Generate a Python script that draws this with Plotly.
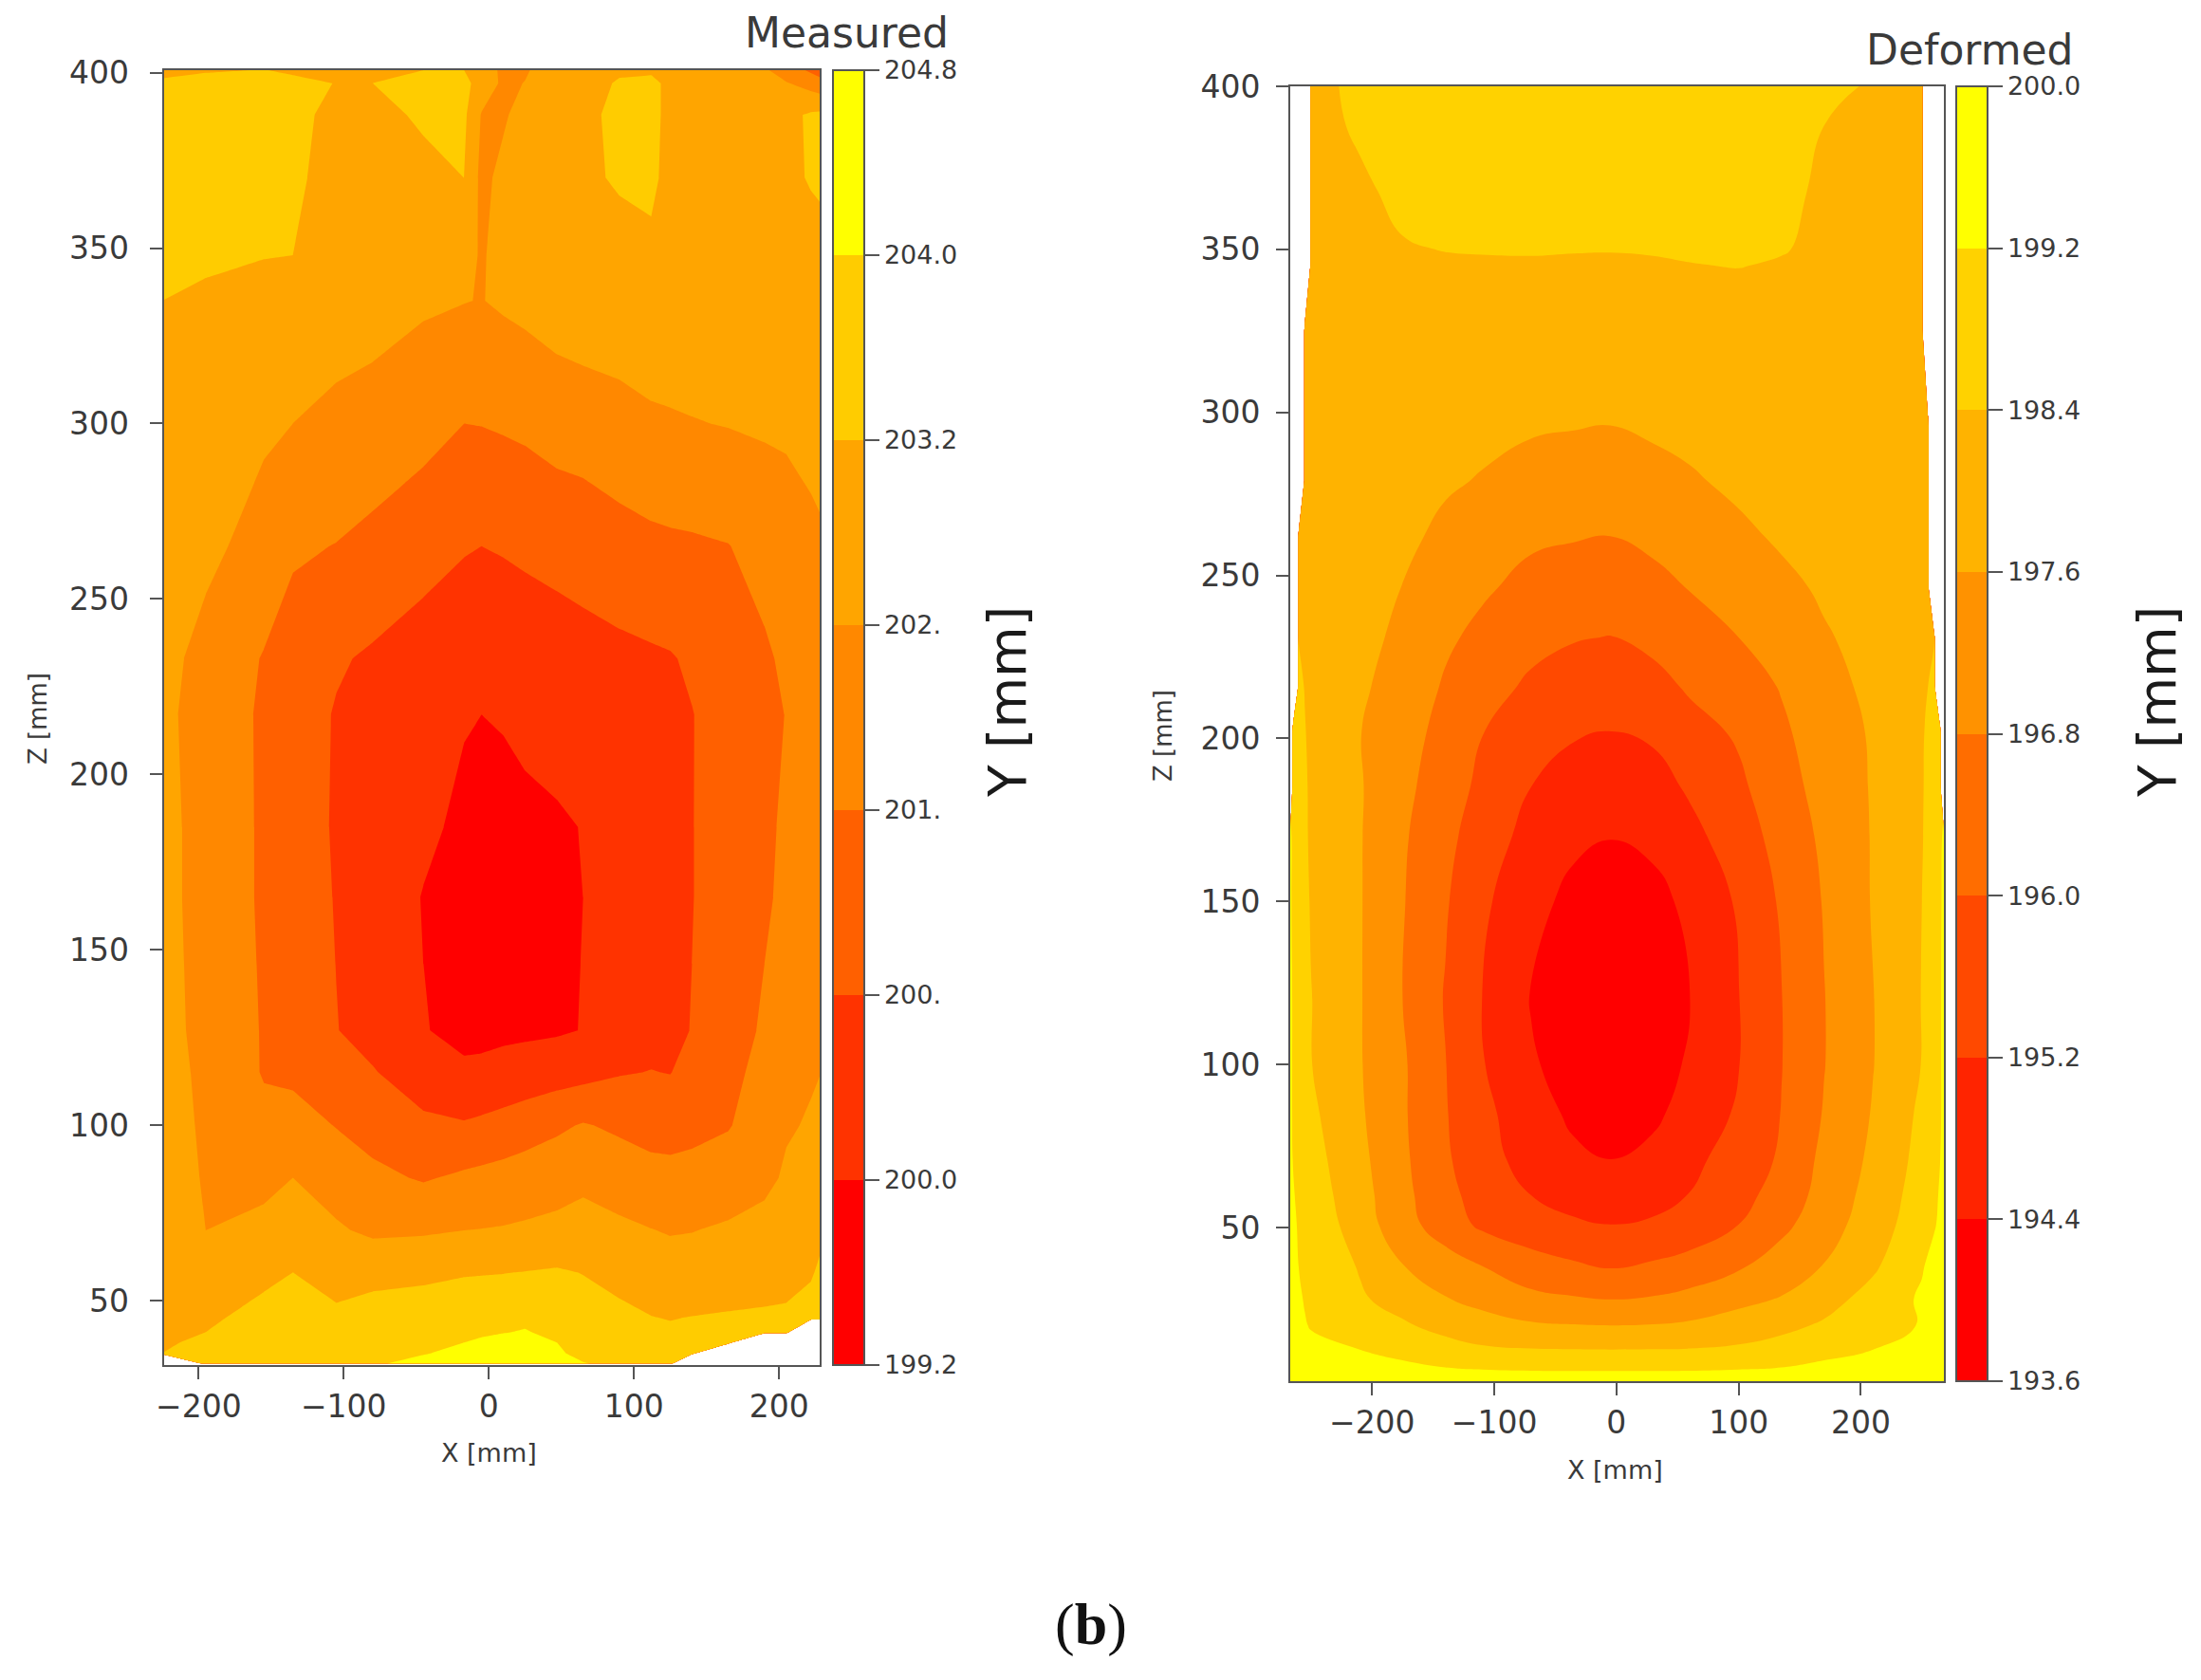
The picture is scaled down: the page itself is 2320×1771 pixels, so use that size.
import plotly.graph_objects as go

W, H = 2320, 1771
N = None

# ---------- Measured panel ----------
measured_x = [-225,-195,-155,-135,-105,-80,-45,-17,-5,10,25,47,65,90,112,125,140,165,190,205,222,229]
measured_z = [32,35,38,41,45,58,70,85,100,115,127,165,185,217,233,265,300,335,348,370,388,397,401.6]
measured_y = [
 [N,203.55,203.65,203.7,203.85,203.96,204.1,204.15,204.18,204.2,204.2,204.1,204.02,203.9,203.7,203.65,N,N,N,N,N,N],
 [203.2,203.45,203.6,203.65,203.75,203.85,203.98,204.08,204.13,204.18,204.2,204.05,203.9,203.75,203.55,203.5,203.5,N,N,N,N,N],
 [203.1,203.35,203.52,203.6,203.65,203.7,203.85,204.0,204.08,204.15,204.18,204.0,203.8,203.6,203.4,203.38,203.38,203.42,N,N,N,N],
 [203.0,203.2,203.45,203.55,203.48,203.58,203.68,203.82,203.92,203.98,204.03,203.88,203.65,203.48,203.3,203.28,203.3,203.35,203.38,203.38,N,N],
 [202.9,203.1,203.4,203.5,203.3,203.45,203.5,203.65,203.75,203.8,203.9,203.75,203.5,203.35,203.22,203.18,203.22,203.27,203.3,203.3,203.4,203.4],
 [202.7,202.9,203.05,203.2,203.0,203.02,203.08,203.15,203.16,203.18,203.22,203.28,203.18,203.0,202.8,202.72,202.72,202.8,202.9,203.0,203.15,203.3],
 [202.7,202.4,202.6,202.85,202.5,202.25,202.3,202.4,202.42,202.45,202.5,202.6,202.75,202.55,202.42,202.35,202.38,202.5,202.6,202.8,203.0,203.1],
 [202.7,202.35,202.2,202.4,202.03,201.77,201.53,201.73,201.8,201.89,201.98,202.07,202.19,202.03,201.85,201.82,201.82,201.98,202.25,202.48,202.65,202.75],
 [202.7,202.3,201.8,201.89,201.57,201.31,200.95,200.87,200.95,201.07,201.23,201.47,201.65,201.47,201.33,201.31,201.42,201.55,201.98,202.34,202.45,202.55],
 [202.7,202.24,201.55,201.45,201.13,200.85,200.4,200.1,200.15,200.25,200.32,200.45,200.55,200.75,200.82,200.78,201.05,201.35,201.88,202.25,202.35,202.4],
 [202.7,202.15,201.55,201.25,200.82,200.55,200.03,199.85,199.82,199.85,199.88,199.92,200.02,200.3,200.55,200.65,200.82,201.25,201.7,202.15,202.3,202.35],
 [202.65,202.1,201.5,201.2,200.76,200.45,199.97,199.75,199.7,199.7,199.72,199.85,200.0,200.3,200.55,200.65,200.78,201.15,201.5,201.75,201.95,202.05],
 [202.65,202.1,201.5,201.2,200.72,200.5,200.15,199.85,199.75,199.78,199.85,199.92,200.02,200.3,200.55,200.65,200.78,201.15,201.45,201.72,201.95,202.05],
 [202.6,202.05,201.5,201.15,200.75,200.55,200.25,200.05,200.0,200.05,200.15,200.25,200.35,200.5,200.62,200.68,200.78,201.1,201.4,201.62,201.9,202.0],
 [202.6,202.2,201.55,201.28,200.88,200.7,200.5,200.35,200.35,200.35,200.4,200.5,200.55,200.62,200.7,200.75,200.9,201.2,201.5,201.72,202.0,202.1],
 [202.7,202.55,202.16,201.7,201.58,201.4,201.05,200.85,200.8,200.85,200.92,201.0,201.1,201.3,201.42,201.47,201.5,201.58,201.85,202.1,202.25,202.3],
 [202.9,202.7,202.5,202.4,202.2,202.1,201.9,201.6,201.62,201.68,201.75,201.95,202.0,202.15,202.3,202.33,202.37,202.43,202.5,202.5,202.6,202.7],
 [203.2,203.1,203.0,202.95,202.8,202.7,202.5,202.42,202.38,202.5,202.6,202.75,202.85,202.85,202.85,202.87,202.9,202.9,202.9,202.9,202.9,202.9],
 [203.4,203.3,203.22,203.2,203.0,202.95,202.9,202.75,202.3,202.75,202.85,202.9,202.95,203.0,203.1,203.0,202.95,202.9,202.9,202.9,202.95,203.0],
 [203.6,203.55,203.4,203.3,203.0,203.0,203.1,203.2,202.2,202.6,203.0,203.05,203.1,203.26,203.3,203.05,203.0,203.0,203.0,203.05,203.25,203.3],
 [203.6,203.6,203.45,203.35,203.05,203.1,203.25,203.35,202.35,202.3,202.7,203.0,203.05,203.35,203.3,203.1,203.0,203.0,202.95,203.0,203.3,203.35],
 [203.45,203.55,203.5,203.4,203.18,203.2,203.4,203.4,202.9,202.25,202.42,202.9,203.0,203.25,203.3,203.1,203.0,202.95,202.75,202.45,202.1,201.9],
 [202.6,203.0,203.15,203.0,203.0,203.15,203.15,203.15,202.9,202.2,202.3,202.8,202.95,203.1,203.1,203.0,202.9,202.7,202.4,201.9,201.3,201.0],
]
measured_levels = [199.2,200.0,200.8,201.6,202.4,203.2,204.0,204.8]
measured_labels = ["199.2","200.0","200.","201.","202.","203.2","204.0","204.8"]
measured_colors = ["#ff0000","#ff3300","#ff6000","#ff8800","#ffa500","#ffcc00","#ffff00"]

# ---------- Deformed panel ----------
deformed_x = [-267,-265,-260,-255,-250,-210,-175,-140,-110,-70,-35,-5,30,60,100,135,170,210,250,255,260,265,268]
deformed_z = [2.9,6,12.6,20,28,37.5,51,60,71,85,100,120,150,170,185,202,216,231,246,262,279,296,325,345,350,368,388,400]
deformed_y = [
 [199.95,199.93,199.92,199.9,199.88,199.85,199.75,199.65,199.6,199.55,199.52,199.5,199.52,199.55,199.6,199.65,199.75,199.85,199.88,199.9,199.92,199.93,199.95],
 [199.92,199.9,199.88,199.85,199.8,199.65,199.45,199.3,199.25,199.21,199.2,199.2,199.2,199.21,199.25,199.3,199.45,199.65,199.8,199.85,199.88,199.9,199.92],
 [199.7,199.6,199.5,199.45,199.4,199.2,198.95,198.7,198.5,198.43,198.41,198.4,198.41,198.43,198.52,198.7,198.95,199.2,199.4,199.45,199.5,199.6,199.7],
 [199.65,199.5,199.35,199.25,199.15,198.85,198.5,198.15,197.95,197.7,197.63,197.6,197.63,197.72,197.95,198.2,198.5,198.85,199.25,199.35,199.45,199.55,199.65],
 [199.6,199.4,199.3,199.15,199.05,198.5,198.1,197.65,197.35,197.0,196.88,196.8,196.88,197.05,197.4,197.65,198.1,198.7,199.3,199.4,199.45,199.55,199.6],
 [199.55,199.35,199.2,199.12,199.05,198.35,197.65,197.2,196.85,196.4,196.15,196.0,196.15,196.35,196.75,197.2,197.65,198.3,199.15,199.3,199.4,199.5,199.55],
 [199.5,199.3,199.15,199.05,198.95,198.0,197.1,196.4,195.85,195.5,195.3,195.2,195.3,195.5,196.0,196.6,197.25,198.0,198.85,199.0,199.15,199.3,199.45],
 [199.48,199.25,199.1,198.97,198.82,197.9,197.02,196.22,195.7,195.2,194.92,194.8,194.92,195.22,195.75,196.3,197.1,197.88,198.75,198.92,199.1,199.25,199.42],
 [199.45,199.2,199.05,198.9,198.7,197.8,196.95,196.1,195.55,194.85,194.55,194.4,194.6,195.0,195.55,196.1,197.0,197.75,198.65,198.85,199.05,199.2,199.4],
 [199.4,199.15,198.9,198.7,198.55,197.7,196.9,196.05,195.4,194.75,194.25,194.05,194.25,194.7,195.3,196.02,196.85,197.65,198.55,198.7,198.9,199.15,199.35],
 [199.4,199.15,198.95,198.7,198.42,197.65,196.9,196.02,195.25,194.5,194.05,193.9,194.05,194.5,195.18,195.98,196.78,197.58,198.42,198.68,198.92,199.15,199.35],
 [199.4,199.15,198.92,198.68,198.42,197.65,196.8,195.95,195.2,194.36,194.0,193.8,194.0,194.38,195.18,195.98,196.78,197.58,198.42,198.68,198.92,199.15,199.35],
 [199.3,199.1,198.85,198.55,198.35,197.65,196.85,196.08,195.35,194.64,194.2,194.05,194.2,194.55,195.3,196.1,196.85,197.65,198.4,198.65,198.9,199.15,199.3],
 [199.3,199.1,198.8,198.5,198.3,197.65,196.9,196.22,195.6,194.95,194.55,194.42,194.55,194.98,195.6,196.3,196.95,197.65,198.35,198.6,198.85,199.1,199.3],
 [N,199.05,198.75,198.48,198.3,197.66,197.0,196.38,195.82,195.2,194.85,194.75,194.9,195.3,195.85,196.48,197.08,197.66,198.33,198.58,198.8,199.05,N],
 [N,198.9,198.65,198.42,198.3,197.62,197.12,196.55,196.02,195.55,195.28,195.18,195.32,195.72,196.1,196.67,197.2,197.68,198.32,198.52,198.72,198.9,N],
 [N,N,198.5,198.38,198.3,197.72,197.27,196.72,196.3,195.88,195.62,195.55,195.75,196.1,196.42,196.85,197.33,197.78,198.3,198.4,198.55,N,N],
 [N,N,198.38,198.35,198.3,197.85,197.42,196.92,196.62,196.22,196.05,195.98,196.2,196.5,196.8,197.1,197.52,197.88,198.3,198.35,198.38,N,N],
 [N,N,198.38,198.35,198.3,197.98,197.58,197.15,196.9,196.58,196.42,196.4,196.6,196.82,197.05,197.38,197.72,198.0,198.3,198.35,N,N,N],
 [N,N,198.38,198.35,198.3,198.1,197.78,197.42,197.2,196.92,196.85,196.8,196.95,197.15,197.42,197.72,197.92,198.12,198.3,198.35,N,N,N],
 [N,N,N,198.32,198.3,198.15,197.95,197.7,197.55,197.28,197.2,197.18,197.35,197.5,197.78,197.95,198.05,198.18,198.3,198.33,N,N,N],
 [N,N,N,198.3,198.28,198.15,198.05,197.9,197.8,197.7,197.64,197.6,197.72,197.85,197.98,198.05,198.12,198.2,198.28,198.3,N,N,N],
 [N,N,N,198.32,198.3,198.2,198.18,198.17,198.15,198.13,198.12,198.1,198.1,198.12,198.16,198.2,198.22,198.25,198.3,N,N,N,N],
 [N,N,N,N,198.28,198.3,198.32,198.35,198.36,198.37,198.37,198.36,198.37,198.39,198.41,198.37,198.3,198.25,198.2,N,N,N,N],
 [N,N,N,N,198.25,198.3,198.37,198.41,198.42,198.42,198.41,198.41,198.42,198.44,198.46,198.42,198.33,198.25,198.2,N,N,N,N],
 [N,N,N,N,198.2,198.33,198.5,198.65,198.7,198.75,198.78,198.78,198.78,198.75,198.7,198.55,198.3,198.25,198.2,N,N,N,N],
 [N,N,N,N,198.25,198.46,198.75,198.85,198.9,198.95,199.0,199.0,199.0,198.95,198.9,198.75,198.4,198.3,198.2,N,N,N,N],
 [N,N,N,N,198.2,198.55,198.75,198.85,198.9,198.95,199.0,199.0,199.0,198.95,198.9,198.8,198.65,198.3,198.15,N,N,N,N],
]
deformed_levels = [193.6,194.4,195.2,196.0,196.8,197.6,198.4,199.2,200.0]
deformed_labels = ["193.6","194.4","195.2","196.0","196.8","197.6","198.4","199.2","200.0"]
deformed_colors = ["#ff0000","#ff2400","#ff4900","#ff6d00","#ff9200","#ffb300","#ffd200","#ffff00"]

x_ticks = [-200,-100,0,100,200]
x_labels = ["\u2212200","\u2212100","0","100","200"]
measured_zticks = [50,100,150,200,250,300,350,400]
deformed_zticks = measured_zticks

INK = "#3a3a3a"
AX = "#555555"


def step_scale(colors):
    n = len(colors)
    out = []
    for i, c in enumerate(colors):
        out += [[i / n, c], [(i + 1) / n, c]]
    return out


def px(v):
    return v / W


def py(v):
    return 1 - v / H


def contour(x, z, y, levels, labels, colors, xa, ya, bar_left, top, bottom, smooth):
    return go.Contour(
        x=x, y=z, z=y, xaxis=xa, yaxis=ya,
        connectgaps=False, hoverinfo="skip",
        autocontour=False,
        contours=dict(start=levels[0], end=levels[-1], size=round(levels[1] - levels[0], 3),
                      coloring="fill", showlines=False),
        line=dict(width=0, smoothing=smooth),
        zmin=levels[0], zmax=levels[-1], zauto=False,
        colorscale=step_scale(colors),
        colorbar=dict(
            x=px(bar_left), xanchor="left", xpad=0,
            y=py((top + bottom) / 2), yanchor="middle", ypad=0,
            len=(bottom - top) / H, lenmode="fraction",
            thickness=33, thicknessmode="pixels",
            outlinecolor=AX, outlinewidth=2,
            ticks="outside", ticklen=15, tickwidth=2, tickcolor=AX,
            tickmode="array", tickvals=levels, ticktext=labels,
            tickfont=dict(family="DejaVu Sans", size=27, color=INK),
        ),
    )


fig = go.Figure()
fig.add_trace(contour(measured_x, measured_z, measured_y, measured_levels, measured_labels,
                      measured_colors, "x", "y", 878, 74, 1439, 0))
fig.add_trace(contour(deformed_x, deformed_z, deformed_y, deformed_levels, deformed_labels,
                      deformed_colors, "x2", "y2", 2062, 91, 1456, 1.3))

axis_common = dict(
    showgrid=False, zeroline=False, showline=True, mirror=True,
    linecolor=AX, linewidth=2, ticks="outside", ticklen=13, tickwidth=2, tickcolor=AX,
    tickfont=dict(family="DejaVu Sans", size=33, color=INK),
)
fig.update_layout(
    width=W, height=H, autosize=False,
    margin=dict(l=0, r=0, t=0, b=0, pad=0, autoexpand=False),
    paper_bgcolor="white", plot_bgcolor="white", showlegend=False,
    xaxis=dict(domain=[px(172.6), px(864)], range=[-224, 228], tickmode="array",
               tickvals=x_ticks, ticktext=x_labels, anchor="y", **axis_common),
    yaxis=dict(domain=[py(1439), py(74)], range=[31.6, 400.7], tickmode="array",
               tickvals=measured_zticks, anchor="x", ticklabelstandoff=15, **axis_common),
    xaxis2=dict(domain=[px(1360), px(2049)], range=[-267, 268], tickmode="array",
                tickvals=x_ticks, ticktext=x_labels, anchor="y2", **axis_common),
    yaxis2=dict(domain=[py(1456), py(91)], range=[2.9, 400], tickmode="array",
                tickvals=deformed_zticks, anchor="x2", ticklabelstandoff=10, **axis_common),
)


def note(text, cx, cy, size, angle=0, family="DejaVu Sans", color=INK):
    fig.add_annotation(text=text, xref="paper", yref="paper", x=px(cx), y=py(cy),
                       xanchor="center", yanchor="middle", showarrow=False, textangle=angle,
                       font=dict(family=family, size=size, color=color))


note("Measured", 892, 35, 44)
note("Deformed", 2076, 53, 44)
note("X [mm]", 515, 1531, 27)
note("X [mm]", 1702, 1549, 27)
note("Z [mm]", 40, 758, 26, -90)
note("Z [mm]", 1226, 776, 26, -90)
note("Y [mm]", 1062, 740, 55, -90, color="#1a1a1a")
note("Y [mm]", 2274, 740, 55, -90, color="#1a1a1a")
note("(<b>b</b>)", 1150, 1712, 62, family="Liberation Serif", color="#111111")

fig.write_html("out.html", config={"displayModeBar": False},
               post_script="document.body.style.margin='0';")
